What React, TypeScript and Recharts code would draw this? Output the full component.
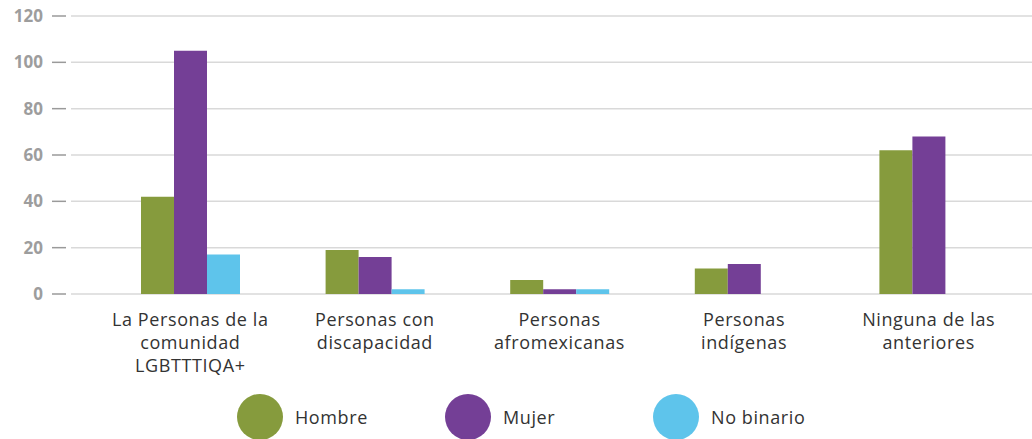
import { BarChart, Bar, XAxis, YAxis, CartesianGrid, Legend } from 'recharts';

const categories = [
  'La Personas de la comunidad LGBTTTIQA+',
  'Personas con discapacidad',
  'Personas afromexicanas',
  'Personas indígenas',
  'Ninguna de las anteriores',
];

// how each category label wraps under the axis
const categoryLines = [
  ['La Personas de la', 'comunidad', 'LGBTTTIQA+'],
  ['Personas con', 'discapacidad'],
  ['Personas', 'afromexicanas'],
  ['Personas', 'indígenas'],
  ['Ninguna de las', 'anteriores'],
];

const hombre = [42, 19, 6, 11, 62];
const mujer = [105, 16, 2, 13, 68];
const noBinario = [17, 2, 2, 0, 0];

const yTicks = [0, 20, 40, 60, 80, 100, 120];

const SERIES = [
  { key: 'hombre', name: 'Hombre', color: '#869b3d' },
  { key: 'mujer', name: 'Mujer', color: '#743f96' },
  { key: 'noBinario', name: 'No binario', color: '#5ec4eb' },
];

const FONT = '"Open Sans", "DejaVu Sans", sans-serif';

const data = categories.map((name, i) => ({
  name,
  hombre: hombre[i],
  mujer: mujer[i],
  noBinario: noBinario[i],
}));

const YTick = ({ x, y, payload }: any) => (
  <g>
    <line x1={x - 19} x2={x - 5} y1={y} y2={y} stroke="#9a9a9a" strokeWidth={1.5} />
    <text
      x={x - 28}
      y={y}
      dy={6}
      textAnchor="end"
      fill="#9d9d9d"
      fontSize={17}
      fontWeight={700}
      fontFamily={FONT}
    >
      {payload.value}
    </text>
  </g>
);

const XTick = ({ x, y, index }: any) => {
  const lines = categoryLines[index] || [];
  return (
    <text
      x={x}
      y={y}
      textAnchor="middle"
      fill="#333333"
      fontSize={18}
      letterSpacing={0.6}
      fontFamily={FONT}
    >
      {lines.map((line, i) => (
        <tspan key={i} x={x} dy={i === 0 ? 24 : 23}>
          {line}
        </tspan>
      ))}
    </text>
  );
};

const LegendContent = () => (
  <div style={{ position: 'relative', height: 55, fontFamily: FONT }}>
    {SERIES.map((s, i) => (
      <div
        key={s.key}
        style={{
          position: 'absolute',
          left: 237 + i * 208,
          top: 10,
          display: 'flex',
          alignItems: 'center',
        }}
      >
        <div
          style={{ width: 46, height: 46, borderRadius: '50%', background: s.color }}
        />
        <span style={{ marginLeft: 12, fontSize: 18, letterSpacing: 0.6, color: '#333333' }}>
          {s.name}
        </span>
      </div>
    ))}
  </div>
);

export default function App() {
  return (
    <div
      style={{
        position: 'absolute',
        left: 0,
        top: 0,
        width: 1032,
        height: 439,
        overflow: 'hidden',
        background: '#ffffff',
      }}
    >
      <BarChart
        width={1032}
        height={439}
        data={data}
        margin={{ top: 16, right: 0, left: 0, bottom: 0 }}
        barGap={0}
        barSize={33}
      >
        <CartesianGrid vertical={false} stroke="#d9d9d9" strokeWidth={1.5} />
        <XAxis
          dataKey="name"
          axisLine={false}
          tickLine={false}
          interval={0}
          height={90}
          padding={{ left: 27, right: 11 }}
          tick={<XTick />}
        />
        <YAxis
          width={71}
          domain={[0, 120]}
          ticks={yTicks}
          axisLine={false}
          tickLine={false}
          tickSize={0}
          tickMargin={0}
          tick={<YTick />}
        />
        <Legend verticalAlign="bottom" height={55} content={<LegendContent />} />
        {SERIES.map((s) => (
          <Bar key={s.key} dataKey={s.key} name={s.name} fill={s.color} isAnimationActive={false} />
        ))}
      </BarChart>
    </div>
  );
}
